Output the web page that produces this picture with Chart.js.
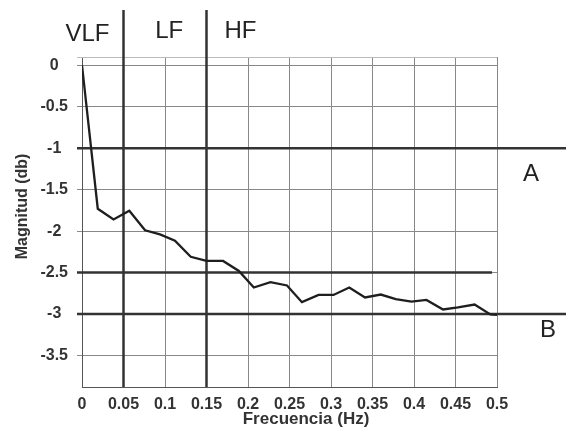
<!DOCTYPE html>
<html>
<head>
<meta charset="utf-8">
<script src="https://cdn.jsdelivr.net/npm/chart.js@4.4.1/dist/chart.umd.min.js"></script>
<style>
  html, body { margin: 0; padding: 0; background: #fff; }
  #wrap { width: 566px; height: 429px; }
</style>
</head>
<body>
<div id="wrap"><canvas id="chart"></canvas></div>
<script>
const freqs = [0, 0.019, 0.038, 0.057, 0.076, 0.094, 0.112, 0.131, 0.150, 0.170,
  0.189, 0.207, 0.227, 0.247, 0.265, 0.285, 0.303, 0.322, 0.341, 0.360,
  0.378, 0.397, 0.415, 0.435, 0.453, 0.473, 0.492, 0.500];
const magnitudes = [0, -1.73, -1.86, -1.755, -1.99, -2.04, -2.115, -2.31, -2.36, -2.36,
  -2.48, -2.68, -2.615, -2.655, -2.857, -2.77, -2.77, -2.68, -2.80, -2.765,
  -2.82, -2.85, -2.83, -2.945, -2.92, -2.885, -3.005, -3.01];
const yTicks = [0, -0.5, -1, -1.5, -2, -2.5, -3, -3.5];
const bandEdges = [0.05, 0.15];
const bandNames = ["VLF", "LF", "HF"];
const bandNameX = [0.0065, 0.105, 0.191];
const refLevels = [-1, -2.5, -3];
const levelNames = ["A", "B"];
const levelNameY = [-1.32, -3.2];

const FONT = "'Liberation Sans', Arial, sans-serif";
const dark = "#333";

const overlay = {
  id: "overlay",
  beforeDatasetsDraw(chart) {
    const { ctx, chartArea: a, scales: { x, y } } = chart;
    ctx.save();
    // light frame on top
    ctx.strokeStyle = "#bbb";
    ctx.lineWidth = 1;
    ctx.beginPath();
    ctx.moveTo(a.left - 5, a.top + 0.5);
    ctx.lineTo(a.right, a.top + 0.5);
    ctx.stroke();

    // band edges and reference levels
    ctx.strokeStyle = dark;
    ctx.lineWidth = 2.5;
    bandEdges.forEach((f) => {
      const px = x.getPixelForValue(f);
      ctx.beginPath();
      ctx.moveTo(px, 10);
      ctx.lineTo(px, a.bottom);
      ctx.stroke();
    });
    refLevels.forEach((v) => {
      const py = y.getPixelForValue(v);
      ctx.beginPath();
      ctx.moveTo(a.left - 5, py);
      ctx.lineTo(v === -2.5 ? a.right - 5 : chart.width, py);
      ctx.stroke();
    });
    ctx.restore();
  },
  afterDraw(chart) {
    const { ctx, scales: { x, y } } = chart;
    ctx.save();
    ctx.fillStyle = "#222";
    ctx.font = "24px " + FONT;
    ctx.textAlign = "center";
    ctx.textBaseline = "middle";
    bandNames.forEach((t, i) => {
      ctx.fillText(t, x.getPixelForValue(bandNameX[i]), i === 0 ? 34 : 31);
    });
    ctx.fillText(levelNames[0], 531, y.getPixelForValue(levelNameY[0]));
    ctx.fillText(levelNames[1], 548, y.getPixelForValue(levelNameY[1]));
    ctx.restore();
  }
};

new Chart(document.getElementById("chart"), {
  type: "scatter",
  data: {
    datasets: [{
      data: freqs.map((f, i) => ({ x: f, y: magnitudes[i] })),
      showLine: true,
      borderColor: "#1e1e1e",
      borderWidth: 2.3,
      pointRadius: 0,
      tension: 0
    }]
  },
  options: {
    responsive: true,
    maintainAspectRatio: false,
    animation: false,
    layout: { padding: { left: 0, right: 69, top: 57, bottom: 0 } },
    plugins: { legend: { display: false }, tooltip: { enabled: false } },
    scales: {
      x: {
        type: "linear",
        min: 0,
        max: 0.5,
        afterFit: (s) => { s.height = 42; },
        ticks: {
          stepSize: 0.05,
          padding: 8,
          maxRotation: 0,
          minRotation: 0,
          autoSkip: false,
          color: dark,
          font: { family: FONT, size: 16, weight: "bold" },
          callback: (v) => +v.toFixed(2)
        },
        grid: { color: "#888", lineWidth: 1, drawTicks: false },
        border: { color: "#555", width: 1 },
        title: {
          display: true,
          text: "       Frecuencia (Hz)",
          color: dark,
          padding: { top: 0, bottom: 1 },
          font: { family: FONT, size: 17, weight: "bold", lineHeight: 1 }
        }
      },
      y: {
        min: -3.88,
        max: 0.1,
        afterFit: (s) => { s.width = 82; },
        afterBuildTicks: (s) => { s.ticks = yTicks.map((v) => ({ value: v })); },
        ticks: {
          padding: 9,
          crossAlign: "center",
          color: dark,
          font: { family: FONT, size: 16, weight: "bold" },
          callback: (v) => v
        },
        grid: { color: "#888", lineWidth: 1, tickLength: 5 },
        border: { color: "#555", width: 1 },
        title: {
          display: true,
          text: "       Magnitud (db)",
          color: dark,
          padding: { top: 13, bottom: 0 },
          font: { family: FONT, size: 16, weight: "bold" }
        }
      }
    }
  },
  plugins: [overlay]
});
</script>
</body>
</html>
